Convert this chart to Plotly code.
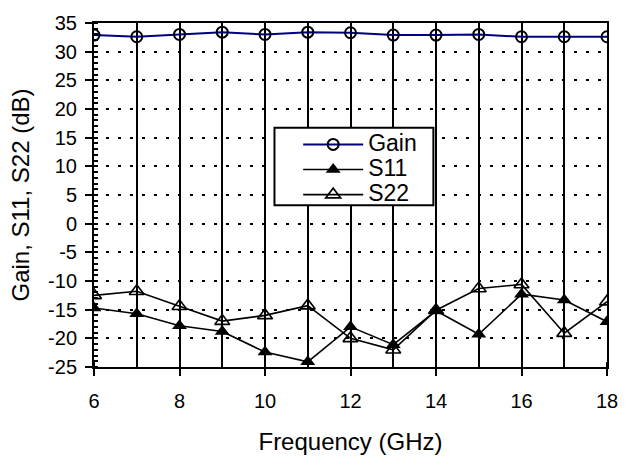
import plotly.graph_objects as go

freq = [6, 7, 8, 9, 10, 11, 12, 13, 14, 15, 16, 17, 18]
gain = [32.9, 32.6, 33.0, 33.4, 33.0, 33.4, 33.3, 32.9, 32.9, 33.0, 32.6, 32.6, 32.6]
s11 = [-14.7, -15.7, -17.8, -18.8, -22.4, -24.1, -18.0, -21.1, -15.2, -19.3, -12.3, -13.3, -17.1]
s22 = [-12.5, -11.8, -14.4, -17.0, -16.0, -14.3, -20.0, -22.0, -15.1, -11.3, -10.6, -19.1, -13.6]
series_names = ["Gain", "S11", "S22"]

x_ticks = [6, 8, 10, 12, 14, 16, 18]
y_ticks = [-25, -20, -15, -10, -5, 0, 5, 10, 15, 20, 25, 30, 35]
y_tick_labels = ["-25", "-20", "-15", "-10", "-5", "0", "5", "10", "15", "20", "25", "30", "35"]


def legend_name(s):
    return "<span style='font-size:23px'>" + s + "</span>"


fig = go.Figure()
fig.add_trace(go.Scatter(x=freq, y=gain, name=legend_name(series_names[0]), mode="lines+markers",
                         line=dict(color="#000080", width=2),
                         marker=dict(symbol="circle-open", size=11, color="black", line=dict(width=2))))
fig.add_trace(go.Scatter(x=freq, y=s11, name=legend_name(series_names[1]), mode="lines+markers",
                         line=dict(color="black", width=1.6),
                         marker=dict(symbol="triangle-up", size=13, color="black")))
fig.add_trace(go.Scatter(x=freq, y=s22, name=legend_name(series_names[2]), mode="lines+markers",
                         line=dict(color="black", width=1.6),
                         marker=dict(symbol="triangle-up-open", size=13, color="black", line=dict(width=1.6))))

# legend frame (drawn as a layout box so the plotly legend sits inside it)
fig.add_shape(type="rect", xref="paper", yref="paper",
              x0=(278 - 94) / 523, x1=(440 - 94) / 523,
              y0=1 - (203 - 15) / 355, y1=1 - (123 - 15) / 355,
              line=dict(color="black", width=2), fillcolor="white", layer="above")

font = dict(family="Arial, Liberation Sans, sans-serif", size=20, color="black")
fig.update_layout(
    width=630, height=463,
    margin=dict(l=94, r=13, t=15, b=93),
    paper_bgcolor="white", plot_bgcolor="white",
    font=font,
    showlegend=True,
    legend=dict(x=0.398, y=0.698, xanchor="left", yanchor="top",
                bgcolor="rgba(0,0,0,0)", borderwidth=0,
                font=dict(size=17), tracegroupgap=0, itemwidth=60),
    xaxis=dict(range=[6, 18], tickvals=x_ticks, showgrid=True, gridcolor="black", gridwidth=2,
               showline=True, linecolor="black", linewidth=2, mirror=True,
               ticks="outside", ticklen=7, tickwidth=2, tickcolor="black",
               ticklabelstandoff=8, ticklabeloverflow="allow",
               minor=dict(dtick=1, showgrid=True, gridcolor="black", gridwidth=2,
                          ticks="inside", ticklen=5, tickwidth=2, tickcolor="black"),
               zeroline=False,
               title=dict(text="Frequency (GHz)", standoff=22, font=dict(size=24))),
    yaxis=dict(range=[-25, 35], tickvals=y_ticks, ticktext=y_tick_labels,
               showgrid=True, gridcolor="black", gridwidth=1.5,
               griddash="3px,9px",
               showline=True, linecolor="black", linewidth=2, mirror=True,
               ticks="outside", ticklen=7, tickwidth=2, tickcolor="black",
               ticklabelstandoff=4,
               minor=dict(dtick=1, ticks="inside", ticklen=4, tickwidth=1.5, tickcolor="black", showgrid=False),
               zeroline=False,
               title=dict(text="Gain, S11, S22 (dB)", standoff=12, font=dict(size=24))),
)

fig.write_html("out.html", config={"displayModeBar": False},
               post_script="document.body.style.margin='0';")
